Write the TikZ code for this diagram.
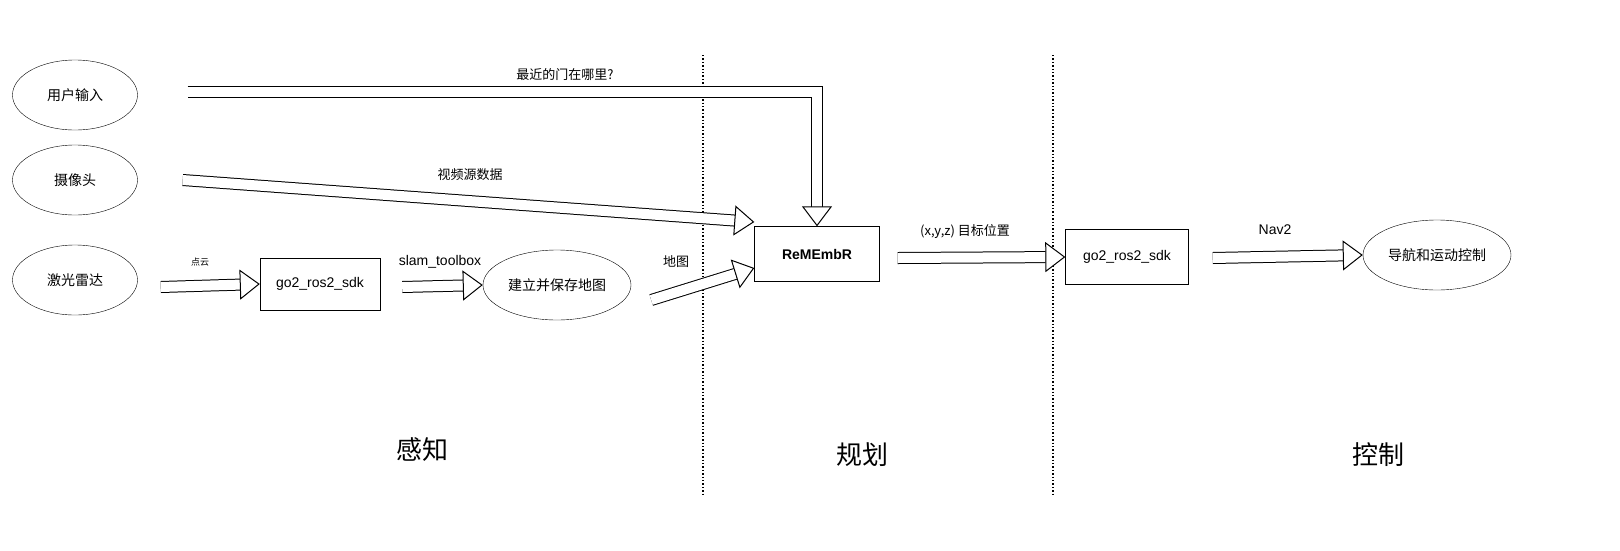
\documentclass[tikz,border=0pt]{standalone}
\usepackage{fontspec}
\setmainfont{Liberation Sans}
\newfontfamily\cjk{Noto Sans CJK SC}
\usetikzlibrary{arrows.meta,positioning,shapes.geometric}
\begin{document}
\begin{tikzpicture}[
        x=1pt, y=-1pt,
        oval/.style={ellipse, draw, minimum width=125pt, minimum height=70pt, font=\cjk\fontsize{14}{16}\selectfont},
        box/.style={rectangle, draw, align=center, font=\fontsize{14}{16}\selectfont},
        hollow/.style={double, double distance=10pt, line width=1pt, line join=miter, -{Triangle[open, fill=white, line width=1pt, length=20pt, width=30pt]}},
        lbl/.style={font=\cjk\fontsize{13}{15}\selectfont},
        phase/.style={font=\cjk\fontsize{26}{30}\selectfont},
        sep/.style={dotted, line width=1.4pt}
    ]
        \useasboundingbox (0,0) rectangle (1620,550);

        % Sources
        \node[oval] (user) at (75,95) {用户输入};
        \node[oval] (cam) at (75,180) {摄像头};
        \node[oval] (lidar) at (75,280) {激光雷达};

        % Perception
        \node[box, minimum width=120pt, minimum height=52pt] (sdk1) at (320,284) {go2\_ros2\_sdk};
        \node[oval, minimum width=130pt] (mapping) at (557,285) {建立并保存地图};

        % Planning
        \node[box, minimum width=125pt, minimum height=55pt, font=\bfseries\fontsize{14}{16}\selectfont] (remembr) at (817,254) {ReMEmbR};

        % Control
        \node[box, minimum width=123pt, minimum height=55pt] (sdk2) at (1127,257) {go2\_ros2\_sdk};
        \node[oval, minimum width=140pt] (nav) at (1437,255) {导航和运动控制};

        % Phase labels
        \node[phase] (perc) at (422,450) {感知};
        \node[phase] (plan) at (862,455) {规划};
        \node[phase] (ctrl) at (1378,455) {控制};

        % Separators
        \coordinate (s1t) at (703,55);
        \coordinate (s1b) at (703,495);
        \coordinate (s2t) at (1053,55);
        \coordinate (s2b) at (1053,495);
        \draw[sep] (s1t) -- (s1b);
        \draw[sep] (s2t) -- (s2b);

        % Arrows
        \draw[hollow] (user.east) ++(50,-3) -| (remembr.north);
        \node[lbl] at (565,75) {最近的门在哪里?};
        \draw[hollow] (cam.east) ++(45,0) -- (remembr.west |- 0,222);
        \node[lbl] at (470,175) {视频源数据};
        \draw[hollow] (lidar.east) ++(23,7) -- (sdk1.west);
        \node[lbl, font=\cjk\fontsize{9}{11}\selectfont] at (200,262) {点云};
        \draw[hollow] (sdk1.east) ++(22,3) -- (mapping.west);
        \node[font=\fontsize{14}{16}\selectfont] at (440,262) {slam\_toolbox};
        \draw[hollow] (mapping.east) ++(20,15) -- (remembr.west |- 0,268);
        \node[lbl] at (676,262) {地图};
        \draw[hollow] (remembr.east) ++(18,4) -- (sdk2.west);
        \node[lbl] at (965,232) {(x,y,z)\ 目标位置};
        \draw[hollow] (sdk2.east) ++(24,1) -- (nav.west);
        \node[font=\fontsize{14}{16}\selectfont] at (1275,230) {Nav2};
\end{tikzpicture}
\end{document}
